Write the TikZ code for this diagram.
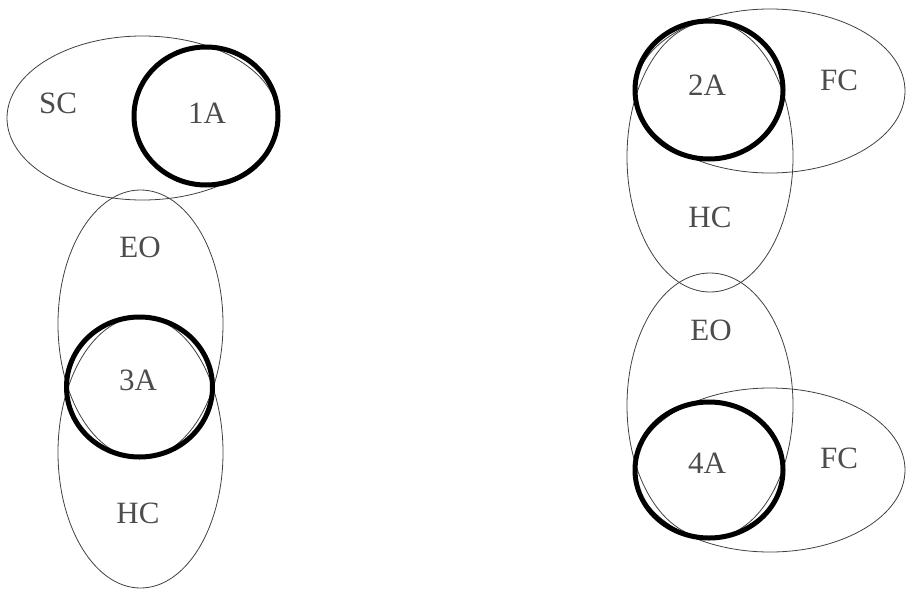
\documentclass[tikz,border=0pt]{standalone}
\usepackage{fontspec}
\setmainfont{Liberation Serif}

\begin{document}
\begin{tikzpicture}[x=1pt, y=-1pt,
    set/.style={draw=black!75, line width=0.8pt},
    core/.style={draw=black, line width=5pt},
    lbl/.style={text=black!70, font=\fontsize{31}{32}\selectfont}]
    \useasboundingbox (0,0) rectangle (907,589);

    % left group: sets
    \draw[set] (142.5,118) ellipse (135.5 and 82); % SC
    \draw[set] (140.5,324) ellipse (82.5 and 134); % EO
    \draw[set] (140.5,452.5) ellipse (82.5 and 135.5); % HC
    \draw[core] (206,116) ellipse (72 and 69);   % 1A
    \draw[core] (139.5,387) ellipse (73 and 70); % 3A

    % right group: sets
    \draw[set] (770,91) ellipse (135 and 82);    % FC
    \draw[set] (710,157) ellipse (83 and 135);   % HC
    \draw[set] (710,405.5) ellipse (83 and 132.5); % EO
    \draw[set] (770,470) ellipse (135 and 82);   % FC
    \draw[core] (709,90) ellipse (74 and 69);    % 2A
    \draw[core] (709,470) ellipse (74 and 68);   % 4A

    % labels
    \node[lbl] (sc) at (58,103) {SC};
    \node[lbl] (a1) at (207,113) {1A};
    \node[lbl] (eoL) at (140,247) {EO};
    \node[lbl] (a3) at (138,380) {3A};
    \node[lbl] (hcL) at (138,513) {HC};
    \node[lbl] (a2) at (707,85) {2A};
    \node[lbl] (fcT) at (839,80) {FC};
    \node[lbl] (hcR) at (710,217) {HC};
    \node[lbl] (eoR) at (711,330) {EO};
    \node[lbl] (a4) at (707,463) {4A};
    \node[lbl] (fcB) at (839,458) {FC};
\end{tikzpicture}
\end{document}
